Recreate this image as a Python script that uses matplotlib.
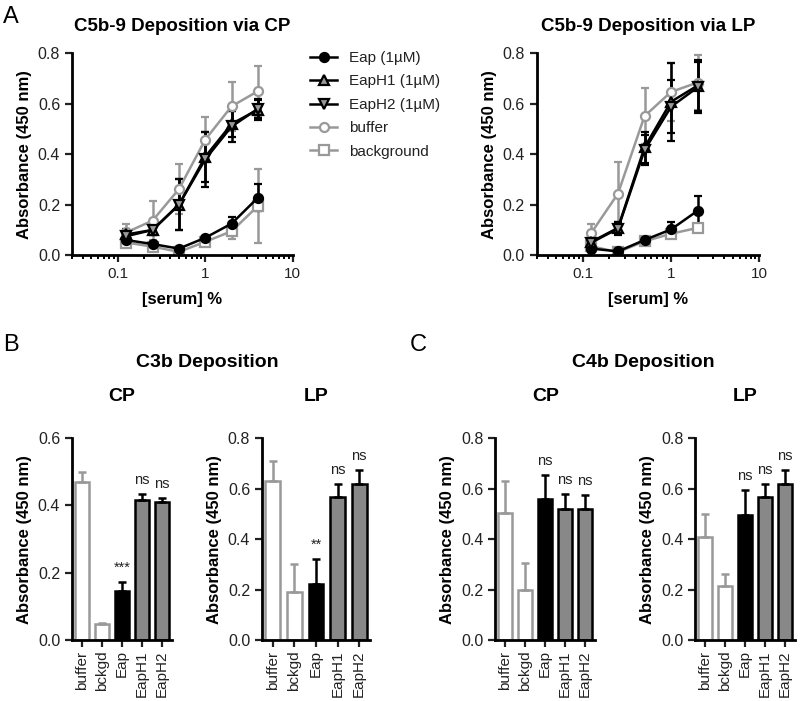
import numpy as np
import matplotlib.pyplot as plt
from matplotlib.lines import Line2D

plt.rcParams['font.family'] = ['Liberation Sans', 'DejaVu Sans']
plt.rcParams['font.size'] = 10

# --- panel A data: serum dilution curves ---
serum_cp = [0.125, 0.25, 0.5, 1, 2, 4]
serum_lp = [0.125, 0.25, 0.5, 1, 2]

cp_eap = [0.06, 0.044, 0.026, 0.069, 0.125, 0.228]
cp_eap_err = [0.01, 0.008, 0.006, 0.006, 0.027, 0.053]
cp_h1 = [0.082, 0.10, 0.20, 0.39, 0.52, 0.577]
cp_h1_err = [0.02, 0.02, 0.10, 0.10, 0.05, 0.04]
cp_h2 = [0.075, 0.10, 0.20, 0.38, 0.51, 0.58]
cp_h2_err = [0.02, 0.02, 0.10, 0.11, 0.06, 0.035]
cp_buf = [0.09, 0.137, 0.262, 0.458, 0.59, 0.65]
cp_buf_err = [0.032, 0.078, 0.10, 0.09, 0.097, 0.10]
cp_bg = [0.05, 0.034, 0.013, 0.053, 0.095, 0.195]
cp_bg_err = [0.008, 0.006, 0.005, 0.006, 0.03, 0.147]

lp_eap = [0.026, 0.015, 0.06, 0.102, 0.176]
lp_eap_err = [0.01, 0.005, 0.006, 0.028, 0.058]
lp_h1 = [0.053, 0.108, 0.427, 0.608, 0.672]
lp_h1_err = [0.015, 0.025, 0.06, 0.155, 0.10]
lp_h2 = [0.05, 0.105, 0.416, 0.588, 0.665]
lp_h2_err = [0.015, 0.025, 0.06, 0.105, 0.10]
lp_buf = [0.089, 0.244, 0.551, 0.647, 0.684]
lp_buf_err = [0.036, 0.125, 0.112, 0.115, 0.11]
lp_bg = [0.035, 0.012, 0.055, 0.085, 0.108]
lp_bg_err = [0.006, 0.004, 0.005, 0.01, 0.01]

# --- panels B/C data: bar charts ---
bar_labels = ['buffer', 'bckgd', 'Eap', 'EapH1', 'EapH2']

c3b_cp = [0.47, 0.047, 0.145, 0.415, 0.41]
c3b_cp_err = [0.028, 0.003, 0.028, 0.018, 0.013]
c3b_cp_sig = ['', '', '***', 'ns', 'ns']

c3b_lp = [0.63, 0.19, 0.22, 0.565, 0.617]
c3b_lp_err = [0.08, 0.11, 0.10, 0.053, 0.055]
c3b_lp_sig = ['', '', '**', 'ns', 'ns']

c4b_cp = [0.505, 0.20, 0.56, 0.52, 0.518]
c4b_cp_err = [0.125, 0.105, 0.095, 0.06, 0.055]
c4b_cp_sig = ['', '', 'ns', 'ns', 'ns']

c4b_lp = [0.41, 0.215, 0.495, 0.565, 0.617]
c4b_lp_err = [0.09, 0.045, 0.10, 0.053, 0.055]
c4b_lp_sig = ['', '', 'ns', 'ns', 'ns']

GRAY = '#999999'
DGRAY = '#888888'


def prism_axes(ax):
    for s in ['top', 'right']:
        ax.spines[s].set_visible(False)
    for s in ['left', 'bottom']:
        ax.spines[s].set_linewidth(2)
    ax.tick_params(width=1.6, length=5, direction='out', labelsize=11.5, colors='#222222')
    ax.tick_params(which='minor', width=1.4, length=3)
    ax.yaxis.set_major_formatter(plt.FormatStrFormatter('%.1f'))


def curve_panel(ax, x, eap, eap_e, h1, h1_e, h2, h2_e, buf, buf_e, bg, bg_e, title):
    kw = dict(lw=1.8, capsize=3, capthick=1.8, elinewidth=1.8, ms=6.5, mew=1.6)
    ax.errorbar(x, buf, yerr=buf_e, color=GRAY, marker='o', mfc='white', mec=GRAY, **kw)
    ax.errorbar(x, bg, yerr=bg_e, color=GRAY, marker='s', mfc='white', mec=GRAY, **kw)
    ax.errorbar(x, eap, yerr=eap_e, color='black', marker='o', mfc='black', mec='black', **kw)
    ax.errorbar(x, h1, yerr=h1_e, color='black', marker='^', mfc=GRAY, mec='black', **kw)
    ax.errorbar(x, h2, yerr=h2_e, color='black', marker='v', mfc=GRAY, mec='black', **kw)
    ax.set_xscale('log')
    ax.set_xlim(0.03, 10)
    ax.set_ylim(0, 0.8)
    ax.set_yticks([0, 0.2, 0.4, 0.6, 0.8])
    ax.set_xticks([0.1, 1, 10])
    ax.set_xticklabels(['0.1', '1', '10'])
    ax.set_ylabel('Absorbance (450 nm)', fontweight='bold', fontsize=12)
    ax.set_xlabel('[serum] %', fontweight='bold', fontsize=12, labelpad=8)
    ax.set_title(title, fontweight='bold', fontsize=13.5, pad=16)
    prism_axes(ax)
    ax.tick_params(axis='x', labelsize=11)


def bar_panel(ax, vals, errs, sig, ymax, title):
    x = np.arange(len(bar_labels))
    face = ['white', 'white', 'black', DGRAY, DGRAY]
    edge = [GRAY, GRAY, 'black', 'black', 'black']
    for i in range(len(vals)):
        ax.bar(x[i], vals[i], width=0.68, color=face[i], edgecolor=edge[i], linewidth=1.8)
        ax.errorbar(x[i], vals[i], yerr=[[0], [errs[i]]], color=edge[i], capsize=3,
                    capthick=1.8, elinewidth=1.8)
        if sig[i]:
            ax.text(x[i], vals[i] + errs[i] + ymax * 0.035, sig[i], ha='center',
                    va='bottom', fontsize=10.5, color='#222222')
    ax.set_xlim(-0.5, 4.5)
    ax.set_ylim(0, ymax)
    ax.set_yticks(np.linspace(0, ymax, 5 if ymax > 0.7 else 4))
    ax.set_xticks(x)
    ax.set_xticklabels(bar_labels, rotation=90)
    ax.set_ylabel('Absorbance (450 nm)', fontweight='bold', fontsize=12)
    ax.set_title(title, fontweight='bold', fontsize=14, pad=27)
    prism_axes(ax)
    ax.tick_params(axis='x', labelsize=11, pad=2.5)


fig = plt.figure(figsize=(8, 7.01), dpi=100)

ax1 = fig.add_axes([0.09, 0.636, 0.276, 0.288])
curve_panel(ax1, serum_cp, cp_eap, cp_eap_err, cp_h1, cp_h1_err, cp_h2, cp_h2_err,
            cp_buf, cp_buf_err, cp_bg, cp_bg_err, 'C5b-9 Deposition via CP')
ax2 = fig.add_axes([0.671, 0.636, 0.278, 0.288])
curve_panel(ax2, serum_lp, lp_eap, lp_eap_err, lp_h1, lp_h1_err, lp_h2, lp_h2_err,
            lp_buf, lp_buf_err, lp_bg, lp_bg_err, 'C5b-9 Deposition via LP')

lkw = dict(lw=1.8, ms=6.5, mew=1.6)
handles = [
    Line2D([], [], color='black', marker='o', mfc='black', mec='black', **lkw),
    Line2D([], [], color='black', marker='^', mfc=GRAY, mec='black', **lkw),
    Line2D([], [], color='black', marker='v', mfc=GRAY, mec='black', **lkw),
    Line2D([], [], color=GRAY, marker='o', mfc='white', mec=GRAY, **lkw),
    Line2D([], [], color=GRAY, marker='s', mfc='white', mec=GRAY, **lkw),
]
labels = ['Eap (1µM)', 'EapH1 (1µM)', 'EapH2 (1µM)', 'buffer', 'background']
fig.legend(handles, labels, loc='upper left', bbox_to_anchor=(0.37, 0.947),
           frameon=False, fontsize=11, handlelength=1.8, labelspacing=0.62,
           labelcolor='#222222')

bot, hgt = 0.087, 0.288
ax3 = fig.add_axes([0.09, bot, 0.125, hgt])
bar_panel(ax3, c3b_cp, c3b_cp_err, c3b_cp_sig, 0.6, 'CP')
ax4 = fig.add_axes([0.3275, bot, 0.135, hgt])
bar_panel(ax4, c3b_lp, c3b_lp_err, c3b_lp_sig, 0.8, 'LP')
ax5 = fig.add_axes([0.619, bot, 0.125, hgt])
bar_panel(ax5, c4b_cp, c4b_cp_err, c4b_cp_sig, 0.8, 'CP')
ax6 = fig.add_axes([0.869, bot, 0.125, hgt])
bar_panel(ax6, c4b_lp, c4b_lp_err, c4b_lp_sig, 0.8, 'LP')

fig.text(0.259, 1 - 362 / 701, 'C3b Deposition', ha='center', va='center',
         fontweight='bold', fontsize=14)
fig.text(0.804, 1 - 362 / 701, 'C4b Deposition', ha='center', va='center',
         fontweight='bold', fontsize=14)
fig.text(0.004, 0.992, 'A', fontsize=17, va='top')
fig.text(0.004, 0.523, 'B', fontsize=17, va='top')
fig.text(0.512, 0.523, 'C', fontsize=17, va='top')

fig.savefig('out.png', dpi=100)
